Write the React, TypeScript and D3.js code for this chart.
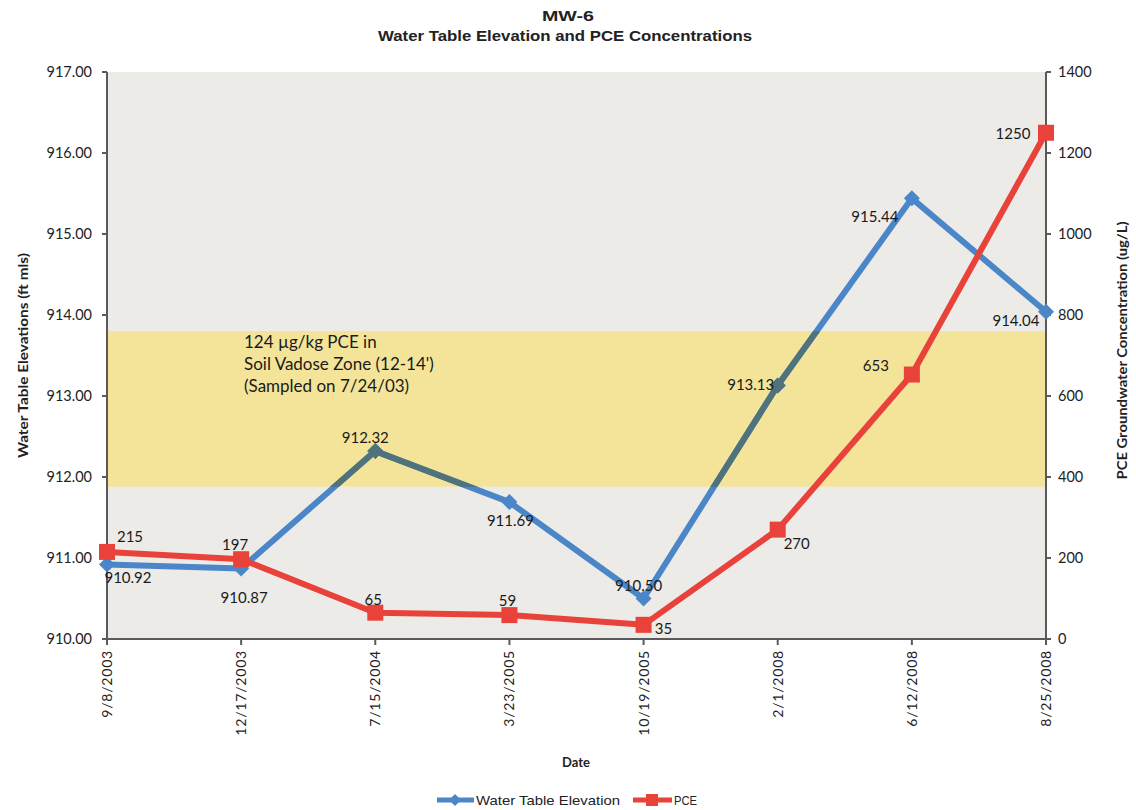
import React from "react";
import * as d3 from "d3";

const dates = ["9/8/2003", "12/17/2003", "7/15/2004", "3/23/2005", "10/19/2005", "2/1/2008", "6/12/2008", "8/25/2008"];
const elevation = [910.92, 910.87, 912.32, 911.69, 910.5, 913.13, 915.44, 914.04];
const pce = [215, 197, 65, 59, 35, 270, 653, 1250];
const leftTicks = [910, 911, 912, 913, 914, 915, 916, 917];
const rightTicks = [0, 200, 400, 600, 800, 1000, 1200, 1400];
const bandRange = [911.88, 913.8];
const bandText = ["124 µg/kg PCE in", "Soil Vadose Zone (12-14')", "(Sampled on 7/24/03)"];

// label offsets (dx, dy of baseline-center) relative to point
const elevLabelOff = [[21, 19], [3, 34], [-10, -8], [1, 24], [-5, -8], [-27, 5], [-37, 24], [-30, 14]];
const pceLabelOff = [[23, -10], [-6, -9], [-2, -8], [-2, -9], [20, 9], [19, 19], [-36, -4], [-33, 6]];

const W = 1136, H = 810;
const L = 107, R = 1046, T = 72, B = 639;
const BLUE = "#4a86c8";
const BLUE_IN_BAND = "#50727a";
const RED = "#e8423b";
const BG = "#ecebe8";
const BAND = "#f3e499";
const AXIS = "#5a5a5a";
const BODY = "Lato, 'Open Sans', sans-serif";
const ARIAL = "'Liberation Sans', Arial, sans-serif";

export default function App() {
  const x = d3.scalePoint<string>().domain(dates).range([L, R]);
  const yL = d3.scaleLinear().domain([910, 917]).range([B, T]);
  const yR = d3.scaleLinear().domain([0, 1400]).range([B, T]);

  const elevPts: [number, number][] = dates.map((d, i) => [x(d)!, yL(elevation[i])]);
  const pcePts: [number, number][] = dates.map((d, i) => [x(d)!, yR(pce[i])]);
  const line = d3.line();

  const bandTop = yL(bandRange[1]);
  const bandBot = yL(bandRange[0]);

  const diamond = (cx: number, cy: number, r: number, fill: string, key: any) => (
    <path key={key} d={`M${cx},${cy - r}L${cx + r},${cy}L${cx},${cy + r}L${cx - r},${cy}Z`} fill={fill} />
  );

  const blueSeries = (color: string) => (
    <g>
      <path d={line(elevPts)!} fill="none" stroke={color} strokeWidth={6} strokeLinejoin="round" />
      {elevPts.map((p, i) => diamond(p[0], p[1], 8, color, i))}
    </g>
  );

  return (
    <svg width={W} height={H} style={{ display: "block", position: "absolute", left: 0, top: 0 }}>
      <defs>
        <clipPath id="bandClip">
          <rect x={L} y={bandTop} width={R - L} height={bandBot - bandTop} />
        </clipPath>
      </defs>
      <rect width={W} height={H} fill="#ffffff" />
      <text x={568} y={21} textAnchor="middle" fontFamily={ARIAL} fontWeight="bold" fontSize={15} fill="#222" textLength={52} lengthAdjust="spacingAndGlyphs">MW-6</text>
      <text x={565} y={41} textAnchor="middle" fontFamily={ARIAL} fontWeight="bold" fontSize={15} fill="#222" textLength={374} lengthAdjust="spacingAndGlyphs">Water Table Elevation and PCE Concentrations</text>

      <rect x={L} y={T} width={R - L} height={B - T} fill={BG} />
      <rect x={L} y={bandTop} width={R - L} height={bandBot - bandTop} fill={BAND} />
      {bandText.map((t, i) => (
        <text key={i} x={244} y={348 + i * 22} fontFamily={BODY} fontSize={17} fill="#1a1a1a">{t}</text>
      ))}

      {/* axes */}
      <line x1={L} x2={L} y1={T} y2={B} stroke={AXIS} strokeWidth={2} />
      <line x1={R} x2={R} y1={T} y2={B} stroke={AXIS} strokeWidth={2} />
      <line x1={L} x2={R} y1={B} y2={B} stroke={AXIS} strokeWidth={2} />
      {leftTicks.map((t) => (
        <g key={t}>
          <line x1={L - 5} x2={L} y1={yL(t)} y2={yL(t)} stroke={AXIS} strokeWidth={2} />
          <text x={92} y={yL(t) + 5} textAnchor="end" fontFamily={BODY} fontSize={14.5} fill="#222">{t.toFixed(2)}</text>
        </g>
      ))}
      {rightTicks.map((t) => (
        <g key={t}>
          <line x1={R} x2={R + 5} y1={yR(t)} y2={yR(t)} stroke={AXIS} strokeWidth={2} />
          <text x={1058} y={yR(t) + 5} textAnchor="start" fontFamily={BODY} fontSize={14.5} fill="#222">{t}</text>
        </g>
      ))}
      {dates.map((d) => (
        <g key={d}>
          <line x1={x(d)!} x2={x(d)!} y1={B} y2={B + 6} stroke={AXIS} strokeWidth={2} />
          <text transform={`translate(${x(d)! + 5},${650}) rotate(-90)`} textAnchor="end" fontFamily={BODY} fontSize={14} letterSpacing={0.8} fill="#222">{d}</text>
        </g>
      ))}
      <text transform={`translate(28,${(T + B) / 2}) rotate(-90)`} textAnchor="middle" fontFamily={BODY} fontWeight="bold" fontSize={14} fill="#222" textLength={205} lengthAdjust="spacingAndGlyphs">Water Table Elevations (ft mls)</text>
      <text transform={`translate(1127,${(T + B) / 2 - 5}) rotate(-90)`} textAnchor="middle" fontFamily={BODY} fontWeight="bold" fontSize={14} fill="#222" textLength={258} lengthAdjust="spacingAndGlyphs">PCE Groundwater Concentration (ug/L)</text>
      <text x={576} y={767} textAnchor="middle" fontFamily={BODY} fontWeight="bold" fontSize={13} fill="#222">Date</text>

      {/* series */}
      {blueSeries(BLUE)}
      <g clipPath="url(#bandClip)">{blueSeries(BLUE_IN_BAND)}</g>
      <path d={line(pcePts)!} fill="none" stroke={RED} strokeWidth={6} strokeLinejoin="round" />
      {pcePts.map((p, i) => (
        <rect key={i} x={p[0] - 8} y={p[1] - 8} width={16} height={16} fill={RED} />
      ))}

      {/* data labels */}
      {elevPts.map((p, i) => (
        <text key={"e" + i} x={p[0] + elevLabelOff[i][0]} y={p[1] + elevLabelOff[i][1]} textAnchor="middle" fontFamily={BODY} fontSize={15} fill="#1a1a1a">{elevation[i].toFixed(2)}</text>
      ))}
      {pcePts.map((p, i) => (
        <text key={"p" + i} x={p[0] + pceLabelOff[i][0]} y={p[1] + pceLabelOff[i][1]} textAnchor="middle" fontFamily={BODY} fontSize={15} fill="#1a1a1a">{pce[i]}</text>
      ))}

      {/* legend */}
      <line x1={437} x2={474} y1={800} y2={800} stroke={BLUE} strokeWidth={5} />
      {diamond(455, 800, 6, BLUE, "ld")}
      <text x={476} y={805} fontFamily={ARIAL} fontSize={13} fill="#222" textLength={144} lengthAdjust="spacingAndGlyphs">Water Table Elevation</text>
      <line x1={633} x2={672} y1={800} y2={800} stroke={RED} strokeWidth={5} />
      <rect x={646} y={794} width={12} height={12} fill={RED} />
      <text x={674} y={805} fontFamily={ARIAL} fontSize={13} fill="#222" textLength={23} lengthAdjust="spacingAndGlyphs">PCE</text>
    </svg>
  );
}
